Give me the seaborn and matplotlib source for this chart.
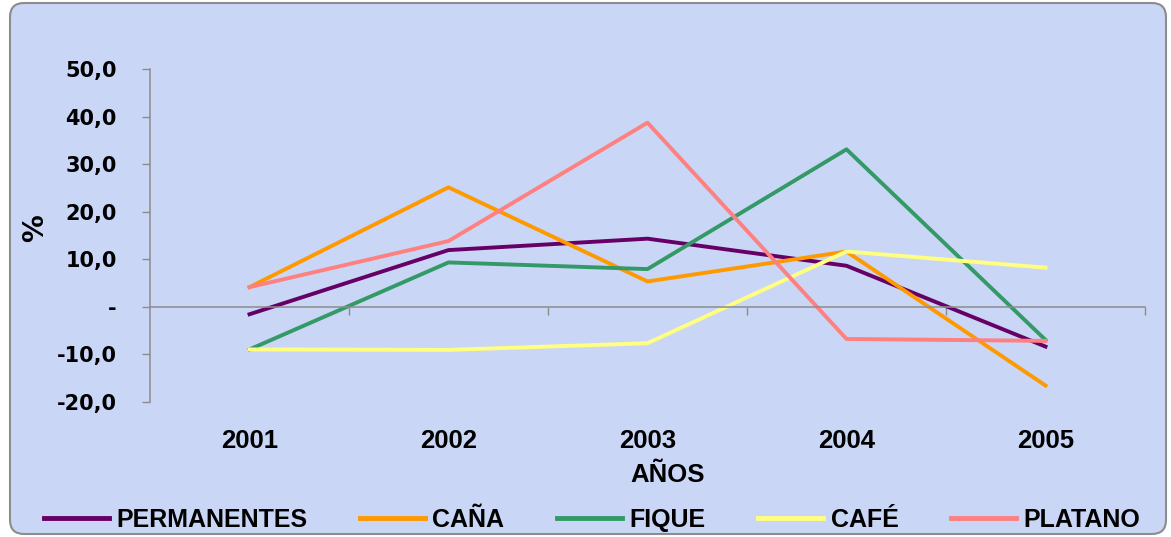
import pandas as pd
import matplotlib.pyplot as plt
import seaborn as sns
from matplotlib.patches import FancyBboxPatch
from matplotlib.ticker import FuncFormatter, FixedLocator

# Chart data
years = [2001, 2002, 2003, 2004, 2005]
permanentes = [-1.6, 11.9, 14.3, 8.6, -8.4]
cana = [4.1, 25.1, 5.3, 11.6, -16.6]
fique = [-9.0, 9.3, 7.9, 33.1, -7.0]
cafe = [-9.0, -9.1, -7.7, 11.6, 8.2]
platano = [4.1, 13.8, 38.7, -6.8, -7.2]

series_names = ["PERMANENTES", "CAÑA", "FIQUE", "CAFÉ", "PLATANO"]
series_values = [permanentes, cana, fique, cafe, platano]
colors = ["#660066", "#FF9900", "#339966", "#FFFF80", "#FF8080"]
y_ticks = [-20, -10, 0, 10, 20, 30, 40, 50]

# Long format table for seaborn
rows = []
for name, vals in zip(series_names, series_values):
    for yr, v in zip(years, vals):
        rows.append({"year": yr, "value": v, "serie": name})
df = pd.DataFrame(rows)

W, H = 1171, 537
fig = plt.figure(figsize=(W / 100, H / 100), dpi=100, facecolor="white")

# chart area background with rounded grey border
bg = FancyBboxPatch((10 / W, 3 / H), 1156 / W, 531 / H,
                    boxstyle="round,pad=0,rounding_size=0.012",
                    mutation_aspect=W / H, transform=fig.transFigure,
                    facecolor="#c9d6f5", edgecolor="#8c8c8c", linewidth=1.5,
                    zorder=-10)
fig.patches.append(bg)

ax = fig.add_axes([150 / W, 1 - 401.7 / H, 995 / W, 332.7 / H])
ax.set_facecolor("none")

sns.lineplot(data=df, x="year", y="value", hue="serie",
             hue_order=series_names, palette=dict(zip(series_names, colors)),
             linewidth=2.8, ax=ax, legend=True)

ax.set_xlim(2000.5, 2005.5)
ax.set_ylim(-20, 50)

grey = "#8c8c8c"
for s in ["top", "right"]:
    ax.spines[s].set_visible(False)
ax.spines["left"].set_color(grey)
ax.spines["bottom"].set_color(grey)
ax.spines["left"].set_linewidth(1.1)
ax.spines["bottom"].set_linewidth(1.1)
ax.spines["bottom"].set_position(("data", 0))

# y axis
ax.yaxis.set_major_locator(FixedLocator(y_ticks))
ax.yaxis.set_major_formatter(FuncFormatter(
    lambda v, p: "-" if v == 0 else f"{v:.1f}".replace(".", ",")))
ax.tick_params(axis="y", direction="out", length=6, width=1, color=grey,
               pad=18, labelsize=15)
for t in ax.get_yticklabels():
    t.set_fontfamily("DejaVu Sans")
    t.set_fontweight("bold")

# x axis: labels low, tick marks between categories on the zero line
ax.set_xticks(years)
ax.set_xticks([y + 0.5 for y in years], minor=True)
ax.tick_params(axis="x", which="major", length=0, pad=88, labelsize=18.5)
ax.tick_params(axis="x", which="minor", direction="out", length=6,
               width=1, color=grey)
for t in ax.get_xticklabels():
    t.set_fontfamily("Liberation Sans")
    t.set_fontweight("bold")

ax.set_xlabel("AÑOS", fontsize=18.5, fontweight="bold", family="Liberation Sans")
ax.xaxis.set_label_coords(0.5206, -0.22)
ax.xaxis.label.set_va("center")
ax.set_ylabel("%", fontsize=20, fontweight="bold", family="DejaVu Sans")
ax.yaxis.set_label_coords(-0.1156, 0.522)
ax.yaxis.label.set_va("center")

# legend at the bottom
leg = ax.get_legend()
handles = leg.legend_handles
labels = [t.get_text() for t in leg.texts]
leg.remove()
for h in handles:
    h.set_linewidth(3.5)
fig.legend(handles, labels, loc="center", bbox_to_anchor=(592 / W, 1 - 520 / H),
           ncol=5, frameon=False, handlelength=2.6, handletextpad=0.3,
           columnspacing=2.1,
           prop={"family": "Liberation Sans", "weight": "bold", "size": 18})

fig.savefig("out.png", dpi=100, facecolor="white")
